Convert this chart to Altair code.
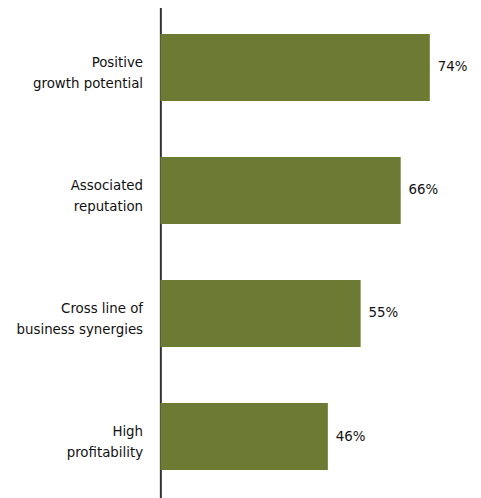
import altair as alt
import pandas as pd

categories = ["Positive|growth potential", "Associated|reputation", "Cross line of|business synergies", "High|profitability"]
values = [74, 66, 55, 46]
labels = ["74%", "66%", "55%", "46%"]

df = pd.DataFrame({"cat": categories, "val": values, "lab": labels})

FONT = "DejaVu Sans Condensed, Liberation Sans Narrow, Roboto, sans-serif"

y = alt.Y("cat:N", sort=categories, title=None,
          scale=alt.Scale(paddingInner=0.455, paddingOuter=0.23),
          axis=alt.Axis(domainColor="#333333", domainWidth=2, ticks=False, grid=False,
                        labelExpr="split(datum.label, '|')", labelFont=FONT, labelFontSize=15,
                        labelColor="#111111", labelPadding=18, labelLineHeight=22, labelLimit=200,
                        labelOffset=-6))
x = alt.X("val:Q", scale=alt.Scale(domain=[0, 84.5]), axis=None)

bars = alt.Chart(df).mark_bar(color="#6c7a34").encode(x=x, y=y)
text = alt.Chart(df).mark_text(align="left", dx=8, dy=-1, font=FONT, fontSize=15, color="#111111").encode(
    x=x, y=alt.Y("cat:N", sort=categories), text="lab:N")

chart = (bars + text).properties(width=311, height=498, padding={"top": -5, "left": 8, "right": 5, "bottom": 0}).configure_view(stroke=None)
chart.save("out.html", embed_options={"renderer": "svg", "actions": False})
